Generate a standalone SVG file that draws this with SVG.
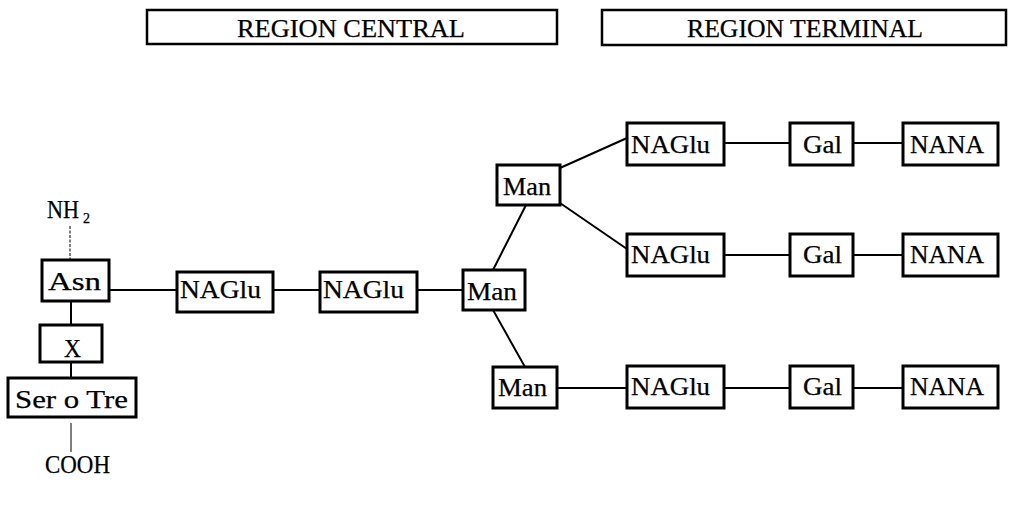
<svg xmlns="http://www.w3.org/2000/svg" width="1011" height="510" viewBox="0 0 1011 510">
<style>
text{font-family:"Liberation Serif","Times New Roman",serif;font-size:25px;fill:#000;stroke:#000;stroke-width:0.25}
.box{fill:#fff;stroke:#000;stroke-width:3}
.hdr{fill:#fff;stroke:#000;stroke-width:2.5}
.c{stroke:#000;stroke-width:2;fill:none}
.thin{stroke:#000;stroke-width:1;fill:none}
</style>
<rect width="1011" height="510" fill="#fff"/>
<g id="hdr-central"><rect class="hdr" x="147" y="10" width="410" height="34"/><text x="237" y="37" textLength="228" lengthAdjust="spacingAndGlyphs">REGION CENTRAL</text></g>
<g id="hdr-terminal"><rect class="hdr" x="602" y="10" width="404" height="35"/><text x="687" y="37" textLength="236" lengthAdjust="spacingAndGlyphs">REGION TERMINAL</text></g>
<g id="connectors">
<line class="thin" x1="70" y1="226" x2="70" y2="260" stroke-dasharray="3 1.5"/>
<line class="c" x1="71" y1="301" x2="71" y2="325" stroke-width="3"/>
<line class="c" x1="71" y1="362" x2="71" y2="378" stroke-width="3"/>
<line class="thin" x1="71" y1="423" x2="71" y2="452"/>
<line class="c" x1="109" y1="290" x2="177" y2="290"/>
<line class="c" x1="273" y1="290" x2="320" y2="290"/>
<line class="c" x1="417" y1="290" x2="463" y2="290"/>
<line class="c" x1="493" y1="270" x2="526" y2="205"/>
<line class="c" x1="493" y1="310" x2="525" y2="367"/>
<line class="c" x1="560" y1="168" x2="627" y2="138"/>
<line class="c" x1="560" y1="203" x2="627" y2="249"/>
<line class="c" x1="557" y1="388" x2="627" y2="388"/>
<line class="c" x1="724" y1="143" x2="790" y2="143"/>
<line class="c" x1="853" y1="143" x2="903" y2="143"/>
<line class="c" x1="724" y1="255" x2="790" y2="255"/>
<line class="c" x1="853" y1="255" x2="903" y2="255"/>
<line class="c" x1="724" y1="388" x2="790" y2="388"/>
<line class="c" x1="853" y1="388" x2="903" y2="388"/>
</g>
<g id="nh2"><text x="47" y="218" textLength="32" lengthAdjust="spacingAndGlyphs">NH</text><text x="83" y="223" style="font-size:14px">2</text></g>
<g id="cooh"><text x="45" y="473" textLength="65" lengthAdjust="spacingAndGlyphs">COOH</text></g>
<g id="asn"><rect class="box" x="42" y="260" width="67" height="41"/><text x="48" y="290" textLength="53" lengthAdjust="spacingAndGlyphs">Asn</text></g>
<g id="x"><rect class="box" x="40" y="325" width="62" height="37"/><text x="64" y="357" textLength="17" lengthAdjust="spacingAndGlyphs">X</text></g>
<g id="ser"><rect class="box" x="8" y="378" width="128" height="39"/><text x="15" y="408" textLength="113" lengthAdjust="spacingAndGlyphs">Ser o Tre</text></g>
<g id="naglu1"><rect class="box" x="177" y="272" width="96" height="40"/><text x="180" y="298" textLength="81" lengthAdjust="spacingAndGlyphs">NAGlu</text></g>
<g id="naglu2"><rect class="box" x="320" y="272" width="97" height="40"/><text x="323" y="298" textLength="81" lengthAdjust="spacingAndGlyphs">NAGlu</text></g>
<g id="man-center"><rect class="box" x="463" y="270" width="62" height="40"/><text x="467" y="300" textLength="50" lengthAdjust="spacingAndGlyphs">Man</text></g>
<g id="man-top"><rect class="box" x="497" y="165" width="63" height="40"/><text x="503" y="195" textLength="48" lengthAdjust="spacingAndGlyphs">Man</text></g>
<g id="man-bottom"><rect class="box" x="493" y="367" width="64" height="41"/><text x="498" y="396" textLength="49" lengthAdjust="spacingAndGlyphs">Man</text></g>
<g id="naglu-r1"><rect class="box" x="627" y="123" width="97" height="42"/><text x="631" y="153" textLength="79" lengthAdjust="spacingAndGlyphs">NAGlu</text></g>
<g id="gal-r1"><rect class="box" x="790" y="123" width="63" height="42"/><text x="803" y="153" textLength="39" lengthAdjust="spacingAndGlyphs">Gal</text></g>
<g id="nana-r1"><rect class="box" x="903" y="123" width="95" height="42"/><text x="910" y="153" textLength="74" lengthAdjust="spacingAndGlyphs">NANA</text></g>
<g id="naglu-r2"><rect class="box" x="627" y="234" width="97" height="42"/><text x="631" y="263" textLength="79" lengthAdjust="spacingAndGlyphs">NAGlu</text></g>
<g id="gal-r2"><rect class="box" x="790" y="234" width="63" height="42"/><text x="803" y="263" textLength="39" lengthAdjust="spacingAndGlyphs">Gal</text></g>
<g id="nana-r2"><rect class="box" x="903" y="234" width="95" height="42"/><text x="910" y="263" textLength="74" lengthAdjust="spacingAndGlyphs">NANA</text></g>
<g id="naglu-r3"><rect class="box" x="627" y="366" width="97" height="42"/><text x="631" y="395" textLength="79" lengthAdjust="spacingAndGlyphs">NAGlu</text></g>
<g id="gal-r3"><rect class="box" x="790" y="366" width="63" height="42"/><text x="803" y="395" textLength="39" lengthAdjust="spacingAndGlyphs">Gal</text></g>
<g id="nana-r3"><rect class="box" x="903" y="366" width="95" height="42"/><text x="910" y="395" textLength="74" lengthAdjust="spacingAndGlyphs">NANA</text></g>
</svg>
